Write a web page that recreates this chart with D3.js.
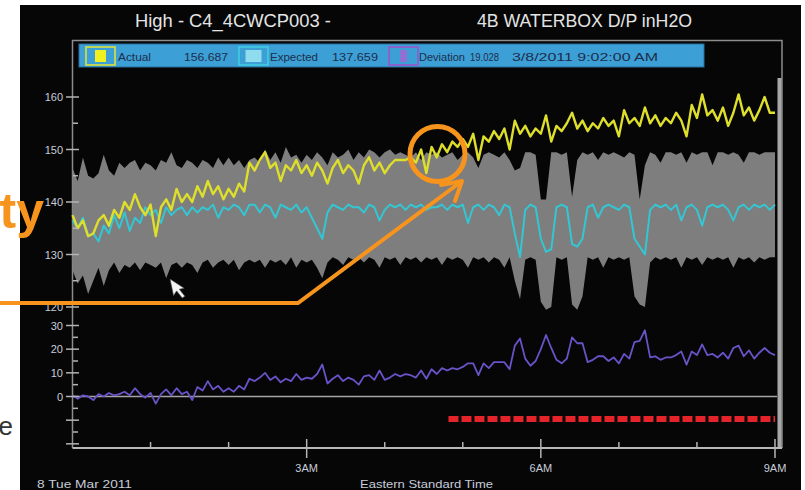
<!DOCTYPE html>
<html>
<head>
<meta charset="utf-8">
<script src="https://cdn.jsdelivr.net/npm/d3@7"></script>
<style>
  body { margin: 0; background: #fff; }
  svg { display: block; }
  text { font-family: "Liberation Sans", Arial, sans-serif; }
</style>
</head>
<body>
<div id="trend"></div>
<script>
// readings every 4 minutes, 8 Mar 2011 00:00 -> 09:00
var stepMinutes = 4;

var actual = [
  137.5, 135, 136.5, 133.5, 134, 136.5, 137.5, 135.5, 138.5, 137,
  140, 138.5, 141.5, 139, 137.5, 139.5, 133.5, 139, 140.5, 138.5,
  142.5, 140, 141.5, 140, 143, 141, 144, 141.5, 143, 140.5,
  142.5, 141, 143.5, 142, 147.5, 146, 148, 149.5, 146.5, 147.5,
  144, 147, 146, 148, 145.5, 147, 145, 147.5, 146, 143.5,
  146.5, 148, 145.5, 147, 146, 143.5, 147, 148.5, 146, 147.5,
  145.5, 147, 148, 148, 148, 148.5, 147.5, 150, 145.5, 150.5,
  148.5, 151, 149.5, 151.5, 150.5, 152, 150.5, 153, 148, 152.5,
  151.5, 153.5, 152, 154, 150, 155.5, 153, 154.5, 152.5, 154,
  153, 156.5, 151.5, 154.5, 153.5, 155, 157, 154, 155.5, 153.5,
  155, 154, 156, 154.5, 155.5, 152.5, 157.5, 155, 156, 154.5,
  158, 155, 156.5, 154.5, 156, 155, 157, 155.5, 152.5, 158.5,
  156, 160.5, 156.5, 157.5, 155.5, 158, 154.5, 157, 160.5, 156.5,
  158, 155.5, 157.5, 160, 157, 157
];

var expected = [
  136.5, 135, 137, 133.5, 134, 132.5, 135.5, 134, 137.5, 135,
  138, 134.5, 137, 136, 139, 137.5, 138.5, 136, 139, 137.5,
  138.5, 139, 137.5, 139, 138, 139, 138.5, 139.5, 137, 139,
  138.5, 139.5, 139, 137.5, 139.5, 139.5, 138, 139.5, 139, 137,
  139.5, 139, 138.5, 139.5, 138, 139, 137, 135, 133, 138,
  139.5, 139, 138.5, 139.5, 139, 139, 138, 139.5, 139, 136.5,
  138.5, 139.5, 139, 139.5, 138.5, 139.5, 139, 139.5, 138.5, 139,
  139, 139.5, 138.5, 139.5, 139, 139.5, 136, 139, 139.5, 138.5,
  139.5, 139, 137.5, 139.5, 139, 134, 129.5, 138.5, 139.5, 139,
  133, 130.5, 131, 139, 139.5, 139, 132, 131.5, 133, 139,
  139.5, 137, 139, 139.5, 139, 138.5, 139.5, 139, 133, 131.5,
  130, 138.5, 139.5, 139, 139.5, 138.5, 139.5, 136.5, 139, 139.5,
  138.5, 135.5, 139, 139.5, 139, 139.5, 138.5, 136.5, 139, 139.5,
  138.5, 139.5, 139, 139.5, 138.5, 139.5
];

var deviation = [
  0.5, -1, 0.5, 0, -1.5, 1, 0, 1.5, 0.5, 1,
  2, 0.5, 3.5, 1, -0.5, 1.5, -3, 1, 3, 0.5,
  3.5, 1, 2, -1.5, 4, 2.5, 6.5, 3, 4.5, 2,
  3.5, 2, 4.5, 3, 7.5, 6.5, 8, 10, 7, 8.5,
  6, 7.5, 6.5, 9.5, 7, 8, 7.5, 9.5, 13.5, 5.5,
  7.5, 9, 6.5, 8, 7, 5, 8.5, 9, 7, 11,
  7, 8, 9.5, 8.5, 9.5, 9, 8, 11, 7.5, 11.5,
  9.5, 12, 11, 12, 11.5, 12.5, 14, 14, 9, 14,
  12, 14.5, 14.5, 14.5, 11.5, 21.5, 24.5, 16, 13, 15,
  20, 26, 20.5, 15.5, 14, 16, 25, 22.5, 22.5, 14.5,
  15.5, 17, 17, 15, 16.5, 14, 18, 16, 23, 23.5,
  28, 16.5, 17, 15.5, 16.5, 16.5, 17.5, 19, 13.5, 19,
  17.5, 22, 17.5, 18, 16.5, 18.5, 16, 20.5, 21.5, 17,
  19.5, 16, 18.5, 20.5, 18.5, 17.5
];

var bandUpper = [
  146.5, 144, 148.5, 145, 144.5, 145.5, 149, 146, 145, 147.5,
  146.5, 147.5, 148, 146, 147.5, 147, 146, 148, 147.5, 149.5,
  147, 146.5, 148, 147.5, 146.5, 148, 147.5, 146.5, 148.5, 147,
  148.5, 147, 148, 146.5, 148, 148.5, 147.5, 150, 148, 149.5,
  147.5, 150.5, 148.5, 149, 147.5, 149, 148, 149.5, 148.5, 147,
  149.5, 148.5, 149, 150, 148, 149.5, 148.5, 150, 149.5, 148.5,
  149.5, 150, 149, 149.5, 149, 148.5, 149.5, 148, 149.5, 149,
  149.5, 148.5, 149, 149.5, 148, 149, 149.5, 148.5, 146.5, 149,
  149.5, 149, 148.5, 149.5, 148, 146, 146.5, 149.5, 149.5, 149,
  140.5, 140.5, 149.5, 149.5, 149, 149.5, 141, 148, 149.5, 149,
  149.5, 148, 149.5, 149, 149.5, 149, 148.5, 149.5, 149, 140.5,
  147, 149.5, 149, 147.5, 149.5, 149.5, 149, 149.5, 147.5, 149.5,
  149, 149.5, 149.5, 147, 149.5, 149.5, 149, 149.5, 149, 147.5,
  149.5, 149.5, 149, 149.5, 149.5, 149.5
];

var bandLower = [
  127, 124.5, 126, 122.5, 125, 127.5, 124, 127, 128.5, 126.5,
  128, 127.5, 128.5, 127, 128.5, 128, 127.5, 128.5, 125.5, 128,
  128.5, 127.5, 128.5, 128, 126.5, 128.5, 129, 127.5, 128.5, 129,
  128, 129, 127, 128.5, 129, 128.5, 129, 127.5, 129, 128.5,
  129, 128, 129.5, 127.5, 129, 128.5, 129, 127.5, 125.5, 128.5,
  129.5, 129, 128, 129.5, 129, 129.5, 128.5, 129.5, 129, 127.5,
  129.5, 129, 129.5, 128, 129.5, 129, 129.5, 128.5, 129.5, 129,
  129.5, 128, 129.5, 129, 129.5, 129, 127.5, 129.5, 129, 129.5,
  128.5, 129.5, 129, 127.5, 129.5, 125, 121.5, 129, 129.5, 129,
  121, 119.5, 120, 129.5, 129, 129.5, 120.5, 119.5, 122, 129.5,
  129, 129.5, 127.5, 129.5, 129, 129.5, 129, 129.5, 122, 120.5,
  120, 128.5, 129.5, 129, 129.5, 129, 129.5, 127.5, 129.5, 129,
  129.5, 128, 129.5, 129, 129.5, 129, 129.5, 127.5, 129.5, 129,
  129.5, 128.5, 129.5, 129, 129.5, 129.5
];

// alarm active from 04:49 to the end of the window (minutes after midnight)
var alarmMinutes = [289, 540];

var legendLabels = ["Actual", "Expected", "Deviation"];
var legendValues = ["156.687", "137.659", "19.028"];
var legendStamp = "3/8/2011 9:02:00 AM";
var titleLeft = "High - C4_4CWCP003 -";
var titleRight = "4B WATERBOX D/P inH2O";
var upperTicks = [120, 125, 130, 135, 140, 145, 150, 155, 160];
var lowerTicks = [-20, -15, -10, -5, 0, 5, 10, 15, 20, 25, 30];

var width = 805, height = 490;
var day = function(h, m) { return new Date(2011, 2, 8, h, m || 0); };
var times = actual.map(function(d, i) { return day(0, i * stepMinutes); });

var svg = d3.select("#trend").append("svg")
    .attr("width", width)
    .attr("height", height);

// screen panel
svg.append("rect").attr("x", 20).attr("y", 5).attr("width", 781).attr("height", 485)
    .attr("fill", "#060606");

var x = d3.scaleTime().domain([day(0), day(9)]).range([72.5, 775]);
var yTop = d3.scaleLinear().domain([120, 160]).range([307, 97]);
var yBot = d3.scaleLinear().domain([0, 30]).range([396.5, 325.5]);

// titles
svg.append("text").attr("x", 135).attr("y", 27).text(titleLeft)
    .attr("font-size", 19).attr("fill", "#e4e4e4")
    .attr("textLength", 196).attr("lengthAdjust", "spacingAndGlyphs");
svg.append("text").attr("x", 477).attr("y", 27).text(titleRight)
    .attr("font-size", 19).attr("fill", "#e4e4e4")
    .attr("textLength", 215).attr("lengthAdjust", "spacingAndGlyphs");

// frame
svg.append("path")
    .attr("d", "M72.5,448 V40.5 H782 V448")
    .attr("fill", "none").attr("stroke", "#8c8c8c").attr("stroke-width", 1.5);
svg.append("line").attr("x1", 779.5).attr("x2", 779.5).attr("y1", 78).attr("y2", 448)
    .attr("stroke", "#a8a8a8").attr("stroke-width", 4);

// legend bar
svg.append("rect").attr("x", 79).attr("y", 44).attr("width", 625).attr("height", 23)
    .attr("fill", "#3c9fd6").attr("stroke", "#2a6f9c").attr("stroke-width", 1);

var swatchX = [86, 239, 389];
var swatchLine = ["#e6e630", "#3fd0e2", "#a050c8"];
var swatchFill = ["#f0f020", "#8fdcee", "#9070d0"];
var swatchInner = [11, 16, 7];
var labelX = [[118, 33], [270, 48], [419, 46]];
var valueX = [[184, 44], [332, 46], [470, 29]];

legendLabels.forEach(function(name, i) {
  svg.append("rect").attr("x", swatchX[i]).attr("y", 47).attr("width", 29).attr("height", 18)
      .attr("fill", "none").attr("stroke", swatchLine[i]).attr("stroke-width", 1.5);
  svg.append("rect").attr("x", swatchX[i] + 14.5 - swatchInner[i] / 2).attr("y", 50)
      .attr("width", swatchInner[i]).attr("height", 12).attr("fill", swatchFill[i]);
  svg.append("text").attr("x", labelX[i][0]).attr("y", 60.5).text(name)
      .attr("font-size", 10).attr("fill", "#1c2e4c")
      .attr("textLength", labelX[i][1]).attr("lengthAdjust", "spacingAndGlyphs");
  svg.append("text").attr("x", valueX[i][0]).attr("y", 60.5).text(legendValues[i])
      .attr("font-size", 10).attr("fill", "#1c2e4c")
      .attr("textLength", valueX[i][1]).attr("lengthAdjust", "spacingAndGlyphs");
});
svg.append("text").attr("x", 512).attr("y", 60.5).text(legendStamp)
    .attr("font-size", 10).attr("fill", "#1c2e4c")
    .attr("textLength", 146).attr("lengthAdjust", "spacingAndGlyphs");

// tolerance band
var band = d3.area()
    .x(function(d, i) { return x(times[i]); })
    .y0(function(d, i) { return yTop(bandLower[i]); })
    .y1(function(d, i) { return yTop(bandUpper[i]); });
svg.append("path").datum(bandUpper).attr("d", band).attr("fill", "#7e7e7e");

var lineTop = function(values) {
  return d3.line()
      .x(function(d, i) { return x(times[i]); })
      .y(function(d) { return yTop(d); })(values);
};

svg.append("path").attr("d", lineTop(expected))
    .attr("fill", "none").attr("stroke", "#34c6d2").attr("stroke-width", 2)
    .attr("stroke-linejoin", "round");
svg.append("path").attr("d", lineTop(actual))
    .attr("fill", "none").attr("stroke", "#dede2c").attr("stroke-width", 2.4)
    .attr("stroke-linejoin", "round");

// deviation pane
svg.append("line").attr("x1", 73).attr("x2", 777)
    .attr("y1", yBot(0)).attr("y2", yBot(0))
    .attr("stroke", "#a4a4a4").attr("stroke-width", 1.5);

var devLine = d3.line()
    .x(function(d, i) { return x(times[i]); })
    .y(function(d) { return yBot(d); });
svg.append("path").datum(deviation).attr("d", devLine)
    .attr("fill", "none").attr("stroke", "#6a52c8").attr("stroke-width", 1.8)
    .attr("stroke-linejoin", "round");

// alarm strip
svg.append("line")
    .attr("x1", x(day(0, alarmMinutes[0]))).attr("x2", x(day(0, alarmMinutes[1])))
    .attr("y1", 419).attr("y2", 419)
    .attr("stroke", "#e4232a").attr("stroke-width", 6)
    .attr("stroke-dasharray", "10,3");

// y axis ticks
var tickColor = "#b4b4b4", labelColor = "#c6ccda";
function yTicks(scale, ticks, labelled) {
  ticks.forEach(function(v) {
    var major = v % 10 === 0;
    svg.append("line")
        .attr("x1", major ? 66 : 73).attr("x2", major ? 79 : 78)
        .attr("y1", scale(v)).attr("y2", scale(v))
        .attr("stroke", tickColor).attr("stroke-width", 1.5);
    if (major && labelled(v)) {
      svg.append("text").attr("x", 63).attr("y", scale(v) + 4)
          .attr("text-anchor", "end").attr("font-size", 11)
          .attr("fill", labelColor).text(v);
    }
  });
}
yTicks(yTop, upperTicks, function() { return true; });
yTicks(yBot, lowerTicks, function(v) { return v >= 0; });

// x axis
svg.append("line").attr("x1", 72.5).attr("x2", 782).attr("y1", 448).attr("y2", 448)
    .attr("stroke", "#b8b8b8").attr("stroke-width", 2);

x.ticks(d3.timeHour.every(1)).forEach(function(t) {
  var h = t.getHours();
  if (h === 0) return;
  var major = h % 3 === 0;
  svg.append("line").attr("x1", x(t)).attr("x2", x(t))
      .attr("y1", major ? 439 : 442).attr("y2", major ? 458 : 448)
      .attr("stroke", tickColor).attr("stroke-width", 1.5);
  if (major) {
    svg.append("text").attr("x", x(t)).attr("y", 472)
        .attr("text-anchor", "middle").attr("font-size", 11)
        .attr("fill", labelColor).text(d3.timeFormat("%-I%p")(t));
  }
});

svg.append("text").attr("x", 37).attr("y", 488).text("8 Tue  Mar 2011")
    .attr("font-size", 11).attr("fill", labelColor)
    .attr("textLength", 95).attr("lengthAdjust", "spacingAndGlyphs");
svg.append("text").attr("x", 360).attr("y", 488).text("Eastern Standard Time")
    .attr("font-size", 11).attr("fill", labelColor)
    .attr("textLength", 133).attr("lengthAdjust", "spacingAndGlyphs");

// mouse pointer left on the screenshot
svg.append("path")
    .attr("d", "M0,0 L0,17 L4,13 L8,21 L11,20 L7,12 L12,12 Z")
    .attr("transform", "translate(170,279) rotate(-12)")
    .attr("fill", "#f4f4f4").attr("stroke", "#444").attr("stroke-width", 0.6);

// slide annotation
var orange = "#f7941d";
svg.append("circle").attr("cx", 437.5).attr("cy", 154).attr("r", 27.5)
    .attr("fill", "none").attr("stroke", orange).attr("stroke-width", 5);
svg.append("polyline").attr("points", "0,303 298,303 462,181")
    .attr("fill", "none").attr("stroke", orange).attr("stroke-width", 4)
    .attr("stroke-linejoin", "miter");
svg.append("polyline").attr("points", "441,185 462,181 455,201")
    .attr("fill", "none").attr("stroke", orange).attr("stroke-width", 4)
    .attr("stroke-linecap", "round").attr("stroke-linejoin", "round");

svg.append("text").attr("x", 44).attr("y", 228).attr("text-anchor", "end")
    .attr("font-family", "Open Sans, sans-serif").attr("font-weight", "bold")
    .attr("font-size", 50).attr("fill", orange).text("ty");
svg.append("text").attr("x", 13).attr("y", 435).attr("text-anchor", "end")
    .attr("font-family", "Open Sans, sans-serif")
    .attr("font-size", 26).attr("fill", "#333").text("e");
</script>
</body>
</html>
